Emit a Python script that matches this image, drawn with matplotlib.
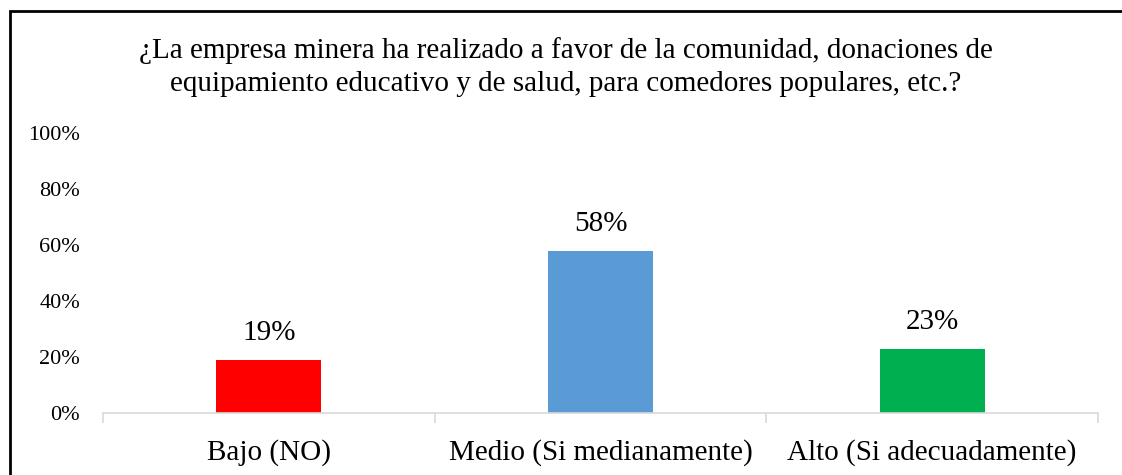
import matplotlib.pyplot as plt
from matplotlib.patches import Rectangle
from matplotlib.ticker import FuncFormatter, FixedLocator

categorias = ['Bajo (NO)', 'Medio (Si medianamente)', 'Alto (Si adecuadamente)']
valores = [0.19, 0.58, 0.23]
colores = ['#FF0000', '#5B9BD5', '#00B050']
titulo = ('¿La empresa minera ha realizado a favor de la comunidad, donaciones de\n'
          'equipamiento educativo y de salud, para comedores populares, etc.?')

plt.rcParams['font.family'] = ['Liberation Serif', 'DejaVu Serif']

fig = plt.figure(figsize=(11.22, 4.75), dpi=100)
ax = fig.add_axes([103 / 1122, 62 / 475, 995 / 1122, 280 / 475])

x = range(len(categorias))
barras = ax.bar(x, valores, width=0.316, color=colores)

for b, v in zip(barras, valores):
    ax.text(b.get_x() + b.get_width() / 2, v + 0.05, f"{round(v * 100)}%",
            ha='center', va='bottom', fontsize=21)

ax.set_xlim(-0.5, len(categorias) - 0.5)
ax.set_ylim(0, 1)
ax.set_yticks([0, 0.2, 0.4, 0.6, 0.8, 1.0])
ax.yaxis.set_major_formatter(FuncFormatter(lambda y, _: f"{round(y * 100)}%"))
ax.tick_params(axis='y', length=0, labelsize=16, pad=16.5)

ax.set_xticks(list(x))
ax.set_xticklabels(categorias, fontsize=21)
ax.tick_params(axis='x', which='major', length=0, pad=19)
ax.xaxis.set_minor_locator(FixedLocator([-0.5, 0.5, 1.5, 2.5]))
ax.tick_params(axis='x', which='minor', length=7, width=1.2, color='#D9D9D9', direction='out')

for s in ['top', 'right', 'left']:
    ax.spines[s].set_visible(False)
ax.spines['bottom'].set_color('#D9D9D9')
ax.spines['bottom'].set_linewidth(1.2)

fig.text(566 / 1122, 1 - 67 / 475, titulo, ha='center', va='center',
         fontsize=21, linespacing=1.32)

# marco exterior
fig.patches.append(Rectangle((10 / 1122, -0.1), 1.2, 1 - 11 / 475 + 0.1,
                             transform=fig.transFigure, fill=False,
                             edgecolor='black', linewidth=2))

fig.savefig('out.png', dpi=100)
